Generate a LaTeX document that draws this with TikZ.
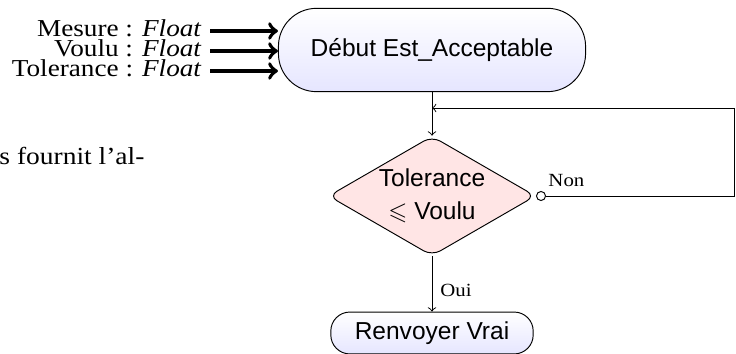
\documentclass[tikz,border=0pt]{standalone}
\usepackage{fontspec}
\setmainfont[FakeStretch=1.12]{Liberation Serif}
\setsansfont{Liberation Sans}
\usepackage{amssymb}
\usetikzlibrary{shapes.geometric}

\tikzset{
  debut/.style={draw, rounded corners=16pt, top color=white, bottom color=blue!10,
    font=\sffamily\fontsize{10.3}{12}\selectfont, minimum width=129pt, minimum height=35pt},
  fin/.style={debut, rounded corners=8pt, minimum width=85pt, minimum height=17.6pt},
  test/.style={draw, diamond, aspect=1.73, inner sep=0.5pt, rounded corners=4pt,
    fill=red!10, align=center, font=\sffamily\fontsize{10.3}{14}\selectfont},
  param/.style={anchor=mid east, font=\fontsize{10.2}{12}\selectfont},
  port/.style={draw, circle, fill=white, inner sep=0pt, minimum size=3.8pt},
  entree/.style={line width=1.6pt, ->},
  flux/.style={->},
  etiq/.style={font=\fontsize{7.8}{9}\selectfont},
}

\begin{document}
\begin{tikzpicture}[x=0.42pt,y=-0.42pt]
\useasboundingbox (0,0) rectangle (736,354);
% suite du paragraphe
\node[anchor=base west, inner sep=0pt, font=\fontsize{10.3}{14}\selectfont] (suite) at (-1,165) {s fournit l’al-};
% blocs
\node[debut] (debut) at (432,50) {Début Est\_Acceptable};
\node[test] (test) at (432,196) {Tolerance\\$\leqslant$ Voulu};
\node[fin] (fin) at (432,333) {Renvoyer Vrai};
% parametres
\node[param] (mesure) at (210,31) {Mesure : \emph{Float}};
\node[param] (voulu) at (210,51) {Voulu : \emph{Float}};
\node[param] (tolerance) at (210,71) {Tolerance : \emph{Float}};
\foreach \p in {mesure,voulu,tolerance}
  \draw[entree] (\p.mid east) -- (\p.mid east -| debut.west);
% boucle
\coordinate (jonction) at (432,108);
\coordinate (coin) at (734,108);
\draw[flux] (debut) -- (test);
\node[port] (non) at (541,196) {};
\node[etiq, anchor=base west, inner sep=0pt] (lnon) at (548,187) {Non};
\draw[flux] (non) -| (coin) -- (jonction);
\draw[flux] (test) -- node[etiq, right, pos=0.62] (loui) {Oui} (fin);
\end{tikzpicture}
\end{document}
